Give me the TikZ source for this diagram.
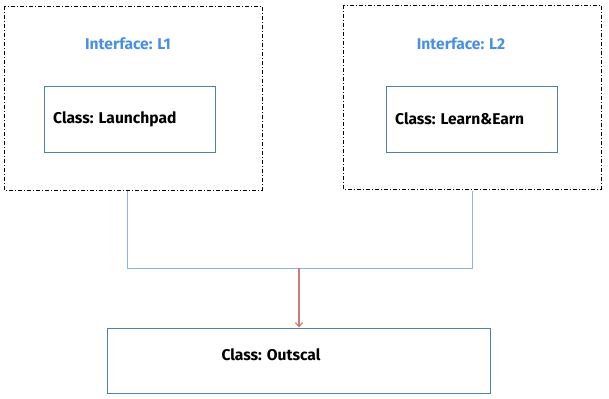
\documentclass[tikz,border=0pt]{standalone}
\usepackage{fontspec}
\setmainfont{Fira Sans}
\usetikzlibrary{arrows.meta}
\definecolor{ifblue}{HTML}{4A90E2}
\definecolor{boxblue}{HTML}{4F7FB0}
\definecolor{linkblue}{HTML}{8DB4E2}
\definecolor{arrowred}{HTML}{D07A7A}
\tikzset{
  x=1pt, y=-1pt,
  iface/.style={draw=black, line width=0.9pt, dash pattern=on 4pt off 2pt on 1pt off 2pt},
  classbox/.style={draw=boxblue, line width=0.9pt},
  label/.style={font=\fontsize{15.6}{18}\selectfont\bfseries, inner sep=0pt},
  iflabel/.style={label, text=ifblue},
  link/.style={draw=linkblue, line width=0.9pt},
  realize/.style={draw=arrowred, line width=1.2pt, -{Straight Barb[length=4pt,width=7pt]}}
}
\begin{document}
\begin{tikzpicture}
\useasboundingbox (0,0) rectangle (609,398);
% interface containers
\draw[iface] (4,6) rectangle (262,190);
\draw[iface] (343,5) rectangle (601,189);
\node[iflabel] (ifL1) at (128,44) {Interface: L1};
\node[iflabel] (ifL2) at (461,44) {Interface: L2};
% implementing classes
\node[classbox, minimum width=171pt, minimum height=66pt, inner sep=0pt] (launch) at (129.5,119) {};
\node[label, anchor=west] (launchtxt) at (53,119) {Class: Launchpad};
\node[classbox, minimum width=171pt, minimum height=66pt, inner sep=0pt] (learn) at (471.5,119) {};
\node[label, anchor=west] (learntxt) at (395,119) {Class: Learn\&Earn};
% derived class
\node[classbox, minimum width=383pt, minimum height=65pt, inner sep=0pt] (outscal) at (298.5,360.5) {};
\node[label] (outtxt) at (271,355) {Class: Outscal};
% connectors
\coordinate (l1out) at (127,191);
\coordinate (l2out) at (472,191);
\coordinate (join) at (299,268);
\draw[link] (l1out) -- (127,268) -- (472,268) -- (l2out);
\draw[realize] (join) -- (outscal.north -| join);
\end{tikzpicture}
\end{document}
